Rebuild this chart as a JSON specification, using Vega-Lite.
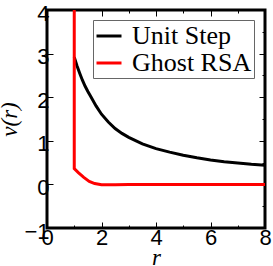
{
  "$schema": "https://vega.github.io/schema/vega-lite/v6.json",
  "width": 218,
  "height": 218,
  "autosize": {"type": "none"},
  "padding": {"left": 47, "top": 10, "right": 8, "bottom": 38},
  "background": "white",
  "config": {
    "view": {"stroke": "black", "strokeWidth": 3},
    "axis": {
      "domain": false,
      "grid": false,
      "tickColor": "black",
      "labelFont": "Liberation Sans",
      "labelFontSize": 22,
      "labelColor": "black",
      "titleFont": "Liberation Serif",
      "titleFontStyle": "italic",
      "titleFontWeight": "normal",
      "titleFontSize": 23,
      "titleColor": "black"
    }
  },
  "data": {
    "values": [
      {"r": 1.0, "v": 2.92, "series": "Unit Step", "ord": 1},
      {"r": 1.1, "v": 2.72, "series": "Unit Step", "ord": 2},
      {"r": 1.2, "v": 2.55, "series": "Unit Step", "ord": 3},
      {"r": 1.3, "v": 2.39, "series": "Unit Step", "ord": 4},
      {"r": 1.4, "v": 2.25, "series": "Unit Step", "ord": 5},
      {"r": 1.5, "v": 2.13, "series": "Unit Step", "ord": 6},
      {"r": 1.6, "v": 2.02, "series": "Unit Step", "ord": 7},
      {"r": 1.8, "v": 1.80, "series": "Unit Step", "ord": 8},
      {"r": 2.0, "v": 1.61, "series": "Unit Step", "ord": 9},
      {"r": 2.25, "v": 1.43, "series": "Unit Step", "ord": 10},
      {"r": 2.5, "v": 1.28, "series": "Unit Step", "ord": 11},
      {"r": 2.75, "v": 1.17, "series": "Unit Step", "ord": 12},
      {"r": 3.0, "v": 1.08, "series": "Unit Step", "ord": 13},
      {"r": 3.5, "v": 0.93, "series": "Unit Step", "ord": 14},
      {"r": 4.0, "v": 0.82, "series": "Unit Step", "ord": 15},
      {"r": 4.5, "v": 0.74, "series": "Unit Step", "ord": 16},
      {"r": 5.0, "v": 0.67, "series": "Unit Step", "ord": 17},
      {"r": 5.5, "v": 0.61, "series": "Unit Step", "ord": 18},
      {"r": 6.0, "v": 0.56, "series": "Unit Step", "ord": 19},
      {"r": 6.5, "v": 0.52, "series": "Unit Step", "ord": 20},
      {"r": 7.0, "v": 0.49, "series": "Unit Step", "ord": 21},
      {"r": 7.5, "v": 0.46, "series": "Unit Step", "ord": 22},
      {"r": 8.0, "v": 0.44, "series": "Unit Step", "ord": 23},
      {"r": 1.0, "v": 4.0, "series": "Ghost RSA", "ord": 1},
      {"r": 1.0, "v": 0.36, "series": "Ghost RSA", "ord": 2},
      {"r": 1.15, "v": 0.27, "series": "Ghost RSA", "ord": 3},
      {"r": 1.35, "v": 0.16, "series": "Ghost RSA", "ord": 4},
      {"r": 1.55, "v": 0.07, "series": "Ghost RSA", "ord": 5},
      {"r": 1.75, "v": 0.02, "series": "Ghost RSA", "ord": 6},
      {"r": 2.0, "v": -0.01, "series": "Ghost RSA", "ord": 7},
      {"r": 2.5, "v": -0.01, "series": "Ghost RSA", "ord": 8},
      {"r": 3.0, "v": 0.0, "series": "Ghost RSA", "ord": 9},
      {"r": 8.0, "v": 0.0, "series": "Ghost RSA", "ord": 10}
    ]
  },
  "encoding": {
    "x": {"field": "r", "type": "quantitative", "scale": {"domain": [0, 8], "nice": false, "zero": false}},
    "y": {"field": "v", "type": "quantitative", "scale": {"domain": [-1, 4], "nice": false, "zero": false}},
    "order": {"field": "ord", "type": "quantitative"}
  },
  "layer": [
    {
      "mark": {"type": "line", "strokeWidth": 3, "clip": true},
      "encoding": {
        "x": {"field": "r", "type": "quantitative", "scale": {"domain": [0, 8], "nice": false, "zero": false},
          "axis": {"orient": "bottom", "title": "r", "values": [0,1,2,3,4,5,6,7,8], "format": "d",
            "labelExpr": "datum.value % 2 === 0 ? datum.label : ''",
            "tickSize": {"condition": {"test": "datum.value % 2 === 0", "value": -6}, "value": -3},
            "tickWidth": 1, "labelPadding": 5, "titlePadding": -5, "labelFlush": false, "labelOverlap": false}},
        "y": {"field": "v", "type": "quantitative", "scale": {"domain": [-1, 4], "nice": false, "zero": false},
          "axis": {"orient": "left", "title": "v(r)", "values": [-1,-0.5,0,0.5,1,1.5,2,2.5,3,3.5,4], "format": "d",
            "labelExpr": "datum.value % 1 === 0 ? datum.label : ''",
            "tickSize": {"condition": {"test": "datum.value % 1 === 0", "value": -6}, "value": -3},
            "tickWidth": 1, "labelPadding": 4, "labelOffset": 3, "titlePadding": 2, "labelFlush": false, "labelOverlap": false}},
        "color": {"field": "series", "type": "nominal",
          "scale": {"domain": ["Unit Step", "Ghost RSA"], "range": ["black", "#ff0000"]},
          "legend": {"orient": "none", "legendX": 46, "legendY": 10, "title": null,
            "symbolType": "stroke", "symbolStrokeWidth": 3, "symbolSize": 625,
            "labelFont": "Liberation Serif", "labelFontSize": 26, "labelColor": "black",
            "strokeColor": "#666666", "padding": 2, "rowPadding": 0, "labelOffset": 9,
            "fillColor": "white"}}
      }
    },
    {
      "mark": {"type": "line", "strokeWidth": 0, "opacity": 0},
      "encoding": {
        "x": {"field": "r", "type": "quantitative", "scale": {"domain": [0, 8], "nice": false, "zero": false},
          "axis": {"orient": "top", "title": null, "values": [0,1,2,3,4,5,6,7,8], "labels": false,
            "tickSize": {"condition": {"test": "datum.value % 2 === 0", "value": -6}, "value": -3}, "tickWidth": 1}},
        "y": {"field": "v", "type": "quantitative", "scale": {"domain": [-1, 4], "nice": false, "zero": false},
          "axis": {"orient": "right", "title": null, "values": [-1,-0.5,0,0.5,1,1.5,2,2.5,3,3.5,4], "labels": false,
            "tickSize": {"condition": {"test": "datum.value % 1 === 0", "value": -6}, "value": -3}, "tickWidth": 1}}
      }
    }
  ],
  "resolve": {"axis": {"x": "independent", "y": "independent"}}
}
